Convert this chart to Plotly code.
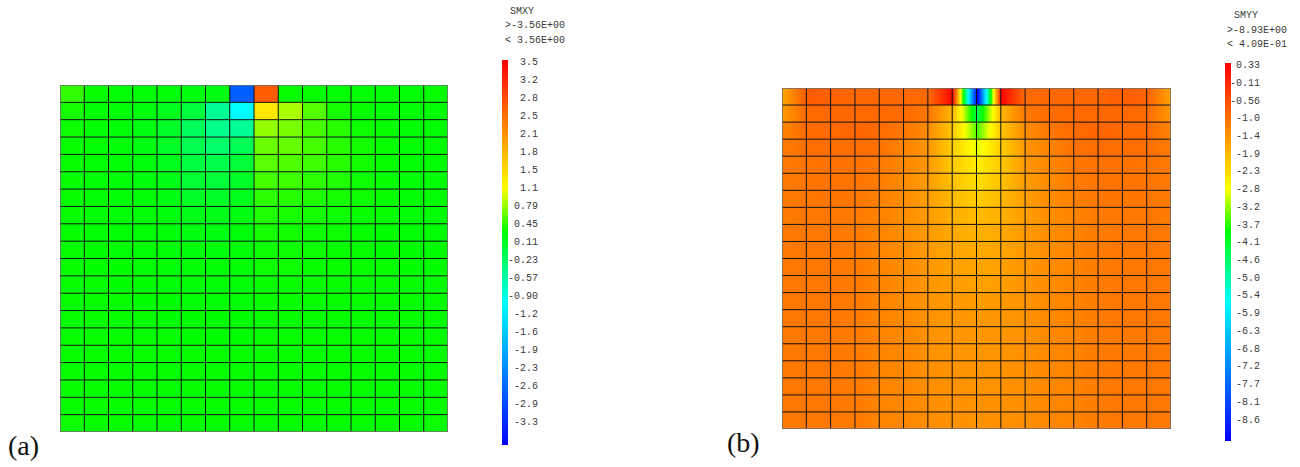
import plotly.graph_objects as go

W, H = 1300, 467
NX, NY = 16, 20

# ---------------- data ----------------
# (a) SMXY, one value per element (row 0 = top row of elements)
smxy_cells = [
    [0.55, 0.40, 0.38, 0.36, 0.35, 0.32, 0.30, -2.60, 2.70, 0.40, 0.40, 0.38, 0.38, 0.38, 0.38, 0.40],
    [0.45, 0.38, 0.36, 0.32, 0.25, 0.07, -0.38, -0.95, 1.40, 0.92, 0.64, 0.45, 0.40, 0.38, 0.38, 0.38],
    [0.42, 0.38, 0.34, 0.30, 0.18, -0.08, -0.33, -0.38, 0.85, 0.76, 0.60, 0.50, 0.42, 0.40, 0.38, 0.38],
    [0.40, 0.38, 0.34, 0.30, 0.20, -0.02, -0.15, -0.05, 0.72, 0.70, 0.60, 0.50, 0.44, 0.40, 0.38, 0.38],
    [0.40, 0.38, 0.35, 0.32, 0.25, 0.05, 0.00, 0.10, 0.66, 0.63, 0.58, 0.50, 0.44, 0.40, 0.38, 0.38],
    [0.40, 0.38, 0.36, 0.33, 0.28, 0.12, 0.10, 0.20, 0.60, 0.58, 0.52, 0.48, 0.43, 0.40, 0.38, 0.38],
    [0.40, 0.38, 0.37, 0.35, 0.30, 0.20, 0.20, 0.25, 0.52, 0.50, 0.48, 0.45, 0.42, 0.40, 0.38, 0.38],
    [0.40, 0.38, 0.37, 0.36, 0.32, 0.26, 0.26, 0.30, 0.48, 0.46, 0.45, 0.43, 0.41, 0.40, 0.38, 0.38],
    [0.40, 0.38, 0.38, 0.37, 0.34, 0.30, 0.30, 0.33, 0.45, 0.44, 0.43, 0.42, 0.40, 0.39, 0.38, 0.38],
    [0.40, 0.39, 0.38, 0.38, 0.36, 0.33, 0.33, 0.35, 0.43, 0.42, 0.42, 0.41, 0.40, 0.39, 0.39, 0.39],
    [0.40, 0.39, 0.39, 0.38, 0.37, 0.35, 0.35, 0.36, 0.42, 0.42, 0.41, 0.41, 0.40, 0.40, 0.39, 0.39],
    [0.40, 0.40, 0.39, 0.39, 0.38, 0.37, 0.37, 0.37, 0.41, 0.41, 0.41, 0.40, 0.40, 0.40, 0.40, 0.40],
    [0.40, 0.40, 0.40, 0.39, 0.39, 0.38, 0.38, 0.38, 0.41, 0.41, 0.40, 0.40, 0.40, 0.40, 0.40, 0.40],
    [0.40, 0.40, 0.40, 0.40, 0.39, 0.39, 0.39, 0.39, 0.41, 0.41, 0.40, 0.40, 0.40, 0.40, 0.40, 0.40],
    [0.40, 0.40, 0.40, 0.40, 0.40, 0.39, 0.39, 0.39, 0.41, 0.40, 0.40, 0.40, 0.40, 0.40, 0.40, 0.40],
    [0.40, 0.40, 0.40, 0.40, 0.40, 0.40, 0.40, 0.40, 0.40, 0.40, 0.40, 0.40, 0.40, 0.40, 0.40, 0.40],
    [0.40, 0.40, 0.40, 0.40, 0.40, 0.40, 0.40, 0.40, 0.40, 0.40, 0.40, 0.40, 0.40, 0.40, 0.40, 0.40],
    [0.41, 0.40, 0.40, 0.40, 0.40, 0.40, 0.40, 0.40, 0.40, 0.40, 0.40, 0.40, 0.40, 0.40, 0.40, 0.41],
    [0.41, 0.41, 0.40, 0.40, 0.40, 0.40, 0.40, 0.40, 0.40, 0.40, 0.40, 0.40, 0.40, 0.40, 0.41, 0.41],
    [0.42, 0.41, 0.41, 0.40, 0.40, 0.40, 0.40, 0.40, 0.40, 0.40, 0.40, 0.40, 0.40, 0.41, 0.41, 0.42],
]
smxy_min, smxy_max = -3.56, 3.56
smxy_ticks = ["3.5", "3.2", "2.8", "2.5", "2.1", "1.8", "1.5", "1.1", "0.79", "0.45", "0.11",
              "-0.23", "-0.57", "-0.90", "-1.2", "-1.6", "-1.9", "-2.3", "-2.6", "-2.9", "-3.3"]

# (b) SMYY, values at the 17 nodes along each element row (row 0 = top)
smyy_rows = [
    [-1.60, -0.70, -0.78, -0.85, -0.85, -0.85, -0.90, 0.35, -8.93, 0.35, -0.90, -0.85, -0.85, -0.85, -0.75, -0.80, -1.60],
    [-1.45, -0.90, -0.85, -0.87, -0.87, -0.90, -1.05, -1.80, -4.30, -1.80, -1.05, -0.90, -0.87, -0.87, -0.85, -0.90, -1.45],
    [-1.20, -0.90, -0.88, -0.82, -0.90, -1.05, -1.30, -2.00, -3.45, -2.00, -1.30, -1.05, -0.90, -0.82, -0.88, -0.90, -1.20],
    [-1.10, -0.95, -0.95, -0.92, -0.98, -1.20, -1.42, -2.10, -2.85, -2.10, -1.42, -1.20, -0.98, -0.92, -0.95, -0.95, -1.10],
    [-1.10, -1.00, -0.98, -0.98, -1.05, -1.25, -1.45, -2.05, -2.50, -2.05, -1.45, -1.25, -1.05, -0.98, -0.98, -1.00, -1.10],
    [-1.10, -1.02, -1.00, -1.02, -1.10, -1.30, -1.50, -1.95, -2.30, -1.95, -1.50, -1.30, -1.10, -1.02, -1.00, -1.02, -1.10],
    [-1.10, -1.05, -1.03, -1.05, -1.15, -1.32, -1.52, -1.85, -2.10, -1.85, -1.52, -1.32, -1.15, -1.05, -1.03, -1.05, -1.10],
    [-1.10, -1.06, -1.05, -1.08, -1.18, -1.33, -1.50, -1.72, -1.88, -1.72, -1.50, -1.33, -1.18, -1.08, -1.05, -1.06, -1.10],
    [-1.08, -1.06, -1.06, -1.10, -1.20, -1.33, -1.48, -1.65, -1.76, -1.65, -1.48, -1.33, -1.20, -1.10, -1.06, -1.06, -1.08],
    [-1.08, -1.06, -1.06, -1.10, -1.20, -1.32, -1.46, -1.60, -1.68, -1.60, -1.46, -1.32, -1.20, -1.10, -1.06, -1.06, -1.08],
    [-1.07, -1.06, -1.06, -1.10, -1.20, -1.30, -1.44, -1.55, -1.60, -1.55, -1.44, -1.30, -1.20, -1.10, -1.06, -1.06, -1.07],
    [-1.07, -1.06, -1.06, -1.10, -1.20, -1.30, -1.42, -1.50, -1.55, -1.50, -1.42, -1.30, -1.20, -1.10, -1.06, -1.06, -1.07],
    [-1.06, -1.06, -1.06, -1.10, -1.20, -1.28, -1.40, -1.46, -1.50, -1.46, -1.40, -1.28, -1.20, -1.10, -1.06, -1.06, -1.06],
    [-1.06, -1.06, -1.06, -1.10, -1.20, -1.27, -1.38, -1.43, -1.46, -1.43, -1.38, -1.27, -1.20, -1.10, -1.06, -1.06, -1.06],
    [-1.06, -1.06, -1.06, -1.10, -1.20, -1.26, -1.37, -1.41, -1.43, -1.41, -1.37, -1.26, -1.20, -1.10, -1.06, -1.06, -1.06],
    [-1.06, -1.06, -1.06, -1.10, -1.20, -1.25, -1.36, -1.40, -1.41, -1.40, -1.36, -1.25, -1.20, -1.10, -1.06, -1.06, -1.06],
    [-1.06, -1.06, -1.06, -1.10, -1.20, -1.25, -1.35, -1.38, -1.40, -1.38, -1.35, -1.25, -1.20, -1.10, -1.06, -1.06, -1.06],
    [-1.06, -1.06, -1.06, -1.10, -1.20, -1.24, -1.34, -1.37, -1.38, -1.37, -1.34, -1.24, -1.20, -1.10, -1.06, -1.06, -1.06],
    [-1.06, -1.06, -1.06, -1.10, -1.20, -1.24, -1.33, -1.36, -1.37, -1.36, -1.33, -1.24, -1.20, -1.10, -1.06, -1.06, -1.06],
    [-1.06, -1.06, -1.06, -1.10, -1.20, -1.24, -1.33, -1.36, -1.37, -1.36, -1.33, -1.24, -1.20, -1.10, -1.06, -1.06, -1.06],
]
smyy_min, smyy_max = -8.93, 0.409
smyy_ticks = ["0.33", "-0.11", "-0.56", "-1.0", "-1.4", "-1.9", "-2.3", "-2.8", "-3.2", "-3.7", "-4.1",
              "-4.6", "-5.0", "-5.4", "-5.9", "-6.3", "-6.8", "-7.2", "-7.7", "-8.1", "-8.6"]

# ---------------- style ----------------
fea_scale = [
    [0.0, "rgb(0,0,255)"],
    [0.37, "rgb(0,255,255)"],
    [0.554, "rgb(0,255,0)"],
    [0.667, "rgb(255,255,0)"],
    [1.0, "rgb(255,0,0)"],
]


def px(x):
    return x / W


def py(y):
    return 1 - y / H


x_nodes = list(range(NX + 1))
y_nodes = list(range(NY + 1))

fig = go.Figure()

# (a) flat element colours
fig.add_trace(go.Heatmap(
    z=smxy_cells[::-1],
    x=[i + 0.5 for i in range(NX)],
    y=[j + 0.5 for j in range(NY)],
    coloraxis="coloraxis", zsmooth=False, hoverinfo="skip",
    xaxis="x", yaxis="y",
))

# (b) shaded along x inside each element row
eps = 0.002
zb, yb = [], []
for r in range(NY - 1, -1, -1):
    top = NY - r
    zb.append(smyy_rows[r]); yb.append(top - 1 + eps)
    zb.append(smyy_rows[r]); yb.append(top - eps)
fig.add_trace(go.Heatmap(
    z=zb, x=x_nodes, y=yb,
    coloraxis="coloraxis2", zsmooth="best", hoverinfo="skip",
    xaxis="x2", yaxis="y2",
))


def grid_xy():
    gx, gy = [], []
    for i in x_nodes[1:-1]:
        gx += [i, i, None]; gy += [0, NY, None]
    for j in y_nodes[1:-1]:
        gx += [0, NX, None]; gy += [j, j, None]
    return gx, gy


gx, gy = grid_xy()
bx = [0, NX, NX, 0, 0]
by = [0, 0, NY, NY, 0]
for xa, ya in (("x", "y"), ("x2", "y2")):
    fig.add_trace(go.Scatter(x=gx, y=gy, mode="lines", line=dict(color="#111111", width=1),
                             hoverinfo="skip", showlegend=False, xaxis=xa, yaxis=ya))
    fig.add_trace(go.Scatter(x=bx, y=by, mode="lines", line=dict(color="#6e6e6e", width=1.6),
                             hoverinfo="skip", showlegend=False, xaxis=xa, yaxis=ya))

axis_common = dict(visible=False, showgrid=False, zeroline=False, fixedrange=True)

bar_common = dict(thickness=6, thicknessmode="pixels", lenmode="pixels",
                  xanchor="left", yanchor="middle", xpad=0, ypad=0,
                  outlinewidth=0, showticklabels=False, ticks="")

fig.update_layout(
    width=W, height=H,
    margin=dict(l=0, r=0, t=0, b=0),
    paper_bgcolor="white", plot_bgcolor="white",
    showlegend=False,
    xaxis=dict(domain=[px(60), px(448)], range=[0, NX], **axis_common),
    yaxis=dict(domain=[py(432), py(85)], range=[0, NY], **axis_common),
    xaxis2=dict(domain=[px(782), px(1171)], range=[0, NX], **axis_common),
    yaxis2=dict(domain=[py(429), py(88)], range=[0, NY], **axis_common),
    coloraxis=dict(colorscale=fea_scale, cmin=smxy_min, cmax=smxy_max,
                   colorbar=dict(len=385, x=px(501.5), y=py(252.5), **bar_common)),
    coloraxis2=dict(colorscale=fea_scale, cmin=smyy_min, cmax=smyy_max,
                    colorbar=dict(len=378, x=px(1225), y=py(252.2), **bar_common)),
)

mono = dict(family="Liberation Mono, DejaVu Sans Mono, monospace", size=10, color="#3a3a3a")
ann = []


def add_text(text, x, y, anchor="left", font=mono):
    ann.append(dict(text=text, x=px(x), y=py(y), xref="paper", yref="paper",
                    xanchor=anchor, yanchor="middle", showarrow=False, font=font))


# colour-bar headers
add_text("SMXY", 508, 12)
add_text(">-3.56E+00", 502.5, 25.5)
add_text("< 3.56E+00", 502.5, 40.5)
add_text("SMYY", 1231.5, 15)
add_text(">-8.93E+00", 1225, 30)
add_text("< 4.09E-01", 1225, 44.5)

# colour-bar labels
n = len(smxy_ticks)
for k, t in enumerate(smxy_ticks):
    add_text(t, 539.5, 62.3 + k * (422.0 - 62.3) / (n - 1), anchor="right")
n = len(smyy_ticks)
for k, t in enumerate(smyy_ticks):
    add_text(t, 1262, 65.7 + k * (420.0 - 65.7) / (n - 1), anchor="right")

serif = dict(family="Liberation Serif, DejaVu Serif, serif", size=28, color="#111111")
add_text("(a)", 23.5, 445, anchor="center", font=serif)
add_text("(b)", 743, 442, anchor="center", font=serif)

fig.update_layout(annotations=ann)
fig.write_html("out.html")
